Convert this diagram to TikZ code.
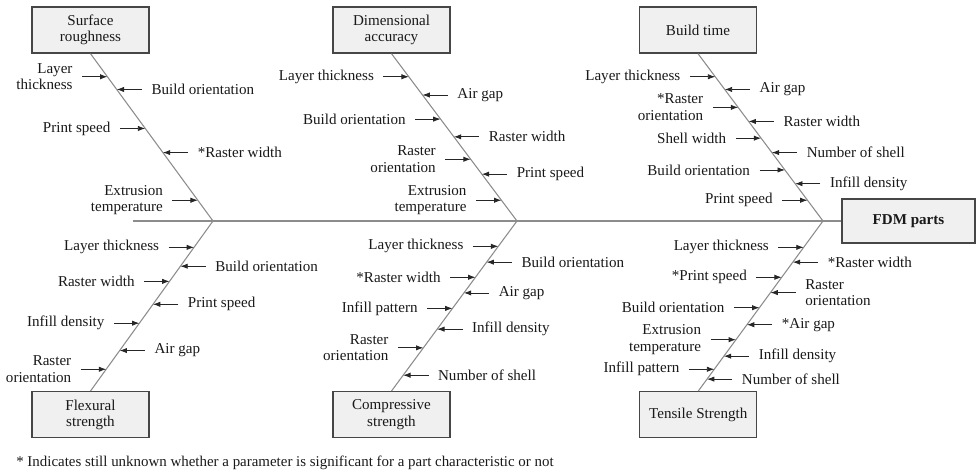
\documentclass[tikz,border=0pt]{standalone}
\usepackage{fontspec}
\setmainfont{Liberation Serif}
\usetikzlibrary{positioning, calc, arrows.meta}
\definecolor{BoneGray}{RGB}{140, 140, 140}
\definecolor{BoxFill}{RGB}{240, 240, 240}
\definecolor{BoxLine}{RGB}{70, 70, 70}
\definecolor{LabelInk}{RGB}{25, 25, 25}

\begin{document}
\begin{tikzpicture}[x=0.75pt, y=-0.75pt,
            effect/.style={draw=BoxLine, fill=BoxFill, line width=1pt, minimum width=87.75pt, minimum height=34.5pt, align=center, inner sep=2pt, text=LabelInk, font=\fontsize{11.3}{12.4}\selectfont},
            bone/.style={draw=BoneGray, line width=0.8pt},
            causeL/.style={anchor=east, xshift=-19pt, align=right, inner xsep=7pt, inner ysep=1pt, text=LabelInk, font=\fontsize{11.3}{12.4}\selectfont},
            causeR/.style={anchor=west, xshift=19pt, align=left, inner xsep=7pt, inner ysep=1pt, text=LabelInk, font=\fontsize{11.3}{12.4}\selectfont},
            feed/.style={-{Latex[length=5.5pt, width=4pt]}, line width=0.6pt, draw=black!85}
        ]
            \useasboundingbox (0,0) rectangle (976,473);

            \node[effect] (sr) at (90.5,30) {Surface\\roughness};
            \node[effect] (da) at (391.5,30) {Dimensional\\accuracy};
            \node[effect] (bt) at (698,30) {Build time};
            \node[effect] (fs) at (90.5,414.7) {Flexural\\strength};
            \node[effect] (cs) at (391.5,414.7) {Compressive\\strength};
            \node[effect] (ts) at (698.3,414.7) {Tensile Strength};
            \node[effect, minimum width=99.75pt, minimum height=33pt, font=\fontsize{11.3}{12.4}\selectfont\bfseries] (fdm) at (908.5,221) {FDM parts};

            \coordinate (tail) at (133,221);
            \coordinate (j1) at (213,221);
            \coordinate (j2) at (517,221);
            \coordinate (j3) at (823,221);

            \draw[bone] (tail) -- (fdm.west);
            \draw[bone] (sr.south) -- (j1) -- (fs.north);
            \draw[bone] (da.south) -- (j2) -- (cs.north);
            \draw[bone] (bt.south) -- (j3) -- (ts.north);

            \foreach \p/\s/\txt [count=\i] in {.138/L/{Layer\\thickness}, .214/R/{Build orientation}, .447/L/{Print speed}, .591/R/{*Raster width}, .876/L/{Extrusion\\temperature}}{
                \coordinate (sr-c\i) at ($(sr.south)!\p!(j1)$);
                \node[cause\s] (sr-t\i) at (sr-c\i) {\txt};
                \draw[feed] (sr-t\i) -- (sr-c\i);
            }
            \foreach \p/\s/\txt [count=\i] in {.138/L/{Layer thickness}, .247/R/{Air gap}, .391/L/{Build orientation}, .497/R/{Raster width}, .631/L/{Raster\\orientation}, .720/R/{Print speed}, .876/L/{Extrusion\\temperature}}{
                \coordinate (da-c\i) at ($(da.south)!\p!(j2)$);
                \node[cause\s] (da-t\i) at (da-c\i) {\txt};
                \draw[feed] (da-t\i) -- (da-c\i);
            }
            \foreach \p/\s/\txt [count=\i] in {.138/L/{Layer thickness}, .214/R/{Air gap}, .321/L/{*Raster\\orientation}, .405/R/{Raster width}, .505/L/{Shell width}, .591/R/{Number of shell}, .695/L/{Build orientation}, .777/R/{Infill density}, .876/L/{Print speed}}{
                \coordinate (bt-c\i) at ($(bt.south)!\p!(j3)$);
                \node[cause\s] (bt-t\i) at (bt-c\i) {\txt};
                \draw[feed] (bt-t\i) -- (bt-c\i);
            }
            \foreach \p/\s/\txt [count=\i] in {.155/L/{Layer thickness}, .266/R/{Build orientation}, .355/L/{Raster width}, .490/R/{Print speed}, .601/L/{Infill density}, .762/R/{Air gap}, .872/L/{Raster\\orientation}}{
                \coordinate (fs-c\i) at ($(j1)!\p!(fs.north)$);
                \node[cause\s] (fs-t\i) at (fs-c\i) {\txt};
                \draw[feed] (fs-t\i) -- (fs-c\i);
            }
            \foreach \p/\s/\txt [count=\i] in {.149/L/{Layer thickness}, .242/R/{Build orientation}, .331/L/{*Raster width}, .423/R/{Air gap}, .514/L/{Infill pattern}, .636/R/{Infill density}, .746/L/{Raster\\orientation}, .907/R/{Number of shell}}{
                \coordinate (cs-c\i) at ($(j2)!\p!(cs.north)$);
                \node[cause\s] (cs-t\i) at (cs-c\i) {\txt};
                \draw[feed] (cs-t\i) -- (cs-c\i);
            }
            \foreach \p/\s/\txt [count=\i] in {.155/L/{Layer thickness}, .242/R/{*Raster width}, .331/L/{*Print speed}, .421/R/{Raster\\orientation}, .510/L/{Build orientation}, .610/R/{*Air gap}, .698/L/{Extrusion\\temperature}, .795/R/{Infill density}, .872/L/{Infill pattern}, .930/R/{Number of shell}}{
                \coordinate (ts-c\i) at ($(j3)!\p!(ts.north)$);
                \node[cause\s] (ts-t\i) at (ts-c\i) {\txt};
                \draw[feed] (ts-t\i) -- (ts-c\i);
            }

            \node[anchor=west, inner sep=0pt, text=LabelInk, font=\fontsize{11.2}{12.4}\selectfont] (note) at (16,463) {* Indicates still unknown whether a parameter is significant for a part characteristic or not};
        \end{tikzpicture}
\end{document}
